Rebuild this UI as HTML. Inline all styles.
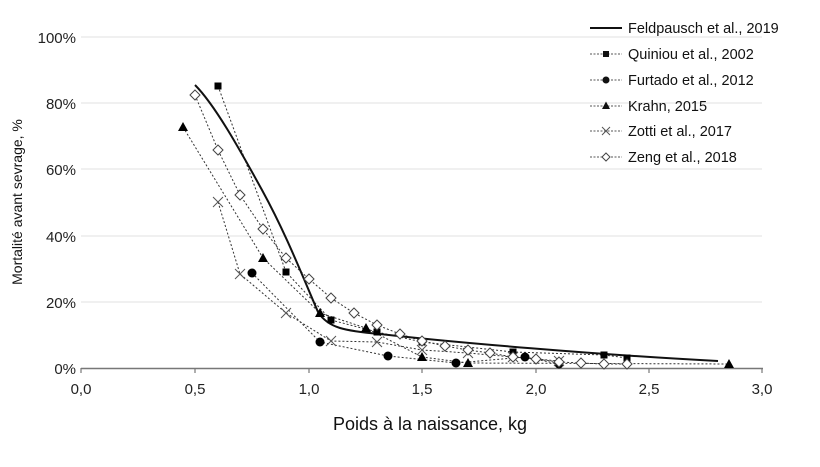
<!DOCTYPE html><html><head><style>body{margin:0;background:#fff}</style></head><body>
<svg width="820" height="462" xmlns="http://www.w3.org/2000/svg" font-family="Liberation Sans, sans-serif">
<defs>
<g id="sq"><rect x="-3.5" y="-3.5" width="7" height="7" fill="#000"/></g>
<g id="ci"><circle r="4.5" fill="#000"/></g>
<g id="tr"><polygon points="0,-5 5,4 -5,4" fill="#000"/></g>
<g id="xx"><path d="M-5,-5L5,5M-5,5L5,-5" stroke="#555" stroke-width="1"/></g>
<g id="di"><polygon points="0,-5 5,0 0,5 -5,0" fill="#fff" stroke="#444" stroke-width="1"/></g>
</defs>
<g stroke="#e6e6e6" stroke-width="1.2">
<line x1="81" x2="762" y1="37" y2="37"/><line x1="81" x2="762" y1="103" y2="103"/><line x1="81" x2="762" y1="169" y2="169"/><line x1="81" x2="762" y1="236" y2="236"/><line x1="81" x2="762" y1="302" y2="302"/></g>
<line x1="81" x2="763" y1="368.5" y2="368.5" stroke="#777" stroke-width="1.5"/>
<g stroke="#777" stroke-width="1.2"><line x1="81" x2="81" y1="368" y2="373"/><line x1="195" x2="195" y1="368" y2="373"/><line x1="309" x2="309" y1="368" y2="373"/><line x1="422" x2="422" y1="368" y2="373"/><line x1="536" x2="536" y1="368" y2="373"/><line x1="649" x2="649" y1="368" y2="373"/><line x1="762" x2="762" y1="368" y2="373"/></g>
<g font-size="15" fill="#222" text-anchor="middle"><text x="81" y="394">0,0</text><text x="195" y="394">0,5</text><text x="309" y="394">1,0</text><text x="422" y="394">1,5</text><text x="536" y="394">2,0</text><text x="649" y="394">2,5</text><text x="762" y="394">3,0</text></g>
<g font-size="15" fill="#222" text-anchor="end"><text x="76" y="43">100%</text><text x="76" y="109">80%</text><text x="76" y="175">60%</text><text x="76" y="242">40%</text><text x="76" y="308">20%</text><text x="76" y="374">0%</text></g>
<text x="430" y="430" font-size="18" text-anchor="middle" fill="#111">Poids à la naissance, kg</text>
<text transform="translate(22,202) rotate(-90)" font-size="14" text-anchor="middle" fill="#111">Mortalité avant sevrage, %</text>
<g fill="none" stroke="#333" stroke-width="1" stroke-dasharray="2,2">
<polyline points="218,86 286,272 331,320 377,332 422,342 513,352 604,355 627,358"/>
<polyline points="252,273 320,342 388,356 456,363 525,357 559,364"/>
<polyline points="183,127 263,258 320,313 366,328 422,357 468,363 729,364"/>
<polyline points="218,202 240,274 286,313 331,341 377,342 422,350 468,353 513,357 559,361"/>
<polyline points="195,95 218,150 240,195 263,229 286,258 309,279 331,298 354,313 377,325 400,334 422,341 445,346 468,350 490,353 513,357 536,359 559,362 581,363 604,364 627,364"/>
</g>
<path d="M195,85 C215,105 240,150 262,190 C285,232 300,270 318,312 C328,328 345,331 380,334 C450,342 600,355 718,361" fill="none" stroke="#111" stroke-width="2"/>
<g>
<use href="#sq" x="218" y="86"/><use href="#sq" x="286" y="272"/><use href="#sq" x="331" y="320"/><use href="#sq" x="377" y="332"/><use href="#sq" x="422" y="342"/><use href="#sq" x="513" y="352"/><use href="#sq" x="604" y="355"/><use href="#sq" x="627" y="358"/>
<use href="#ci" x="252" y="273"/><use href="#ci" x="320" y="342"/><use href="#ci" x="388" y="356"/><use href="#ci" x="456" y="363"/><use href="#ci" x="525" y="357"/><use href="#ci" x="559" y="364"/>
<use href="#tr" x="183" y="127"/><use href="#tr" x="263" y="258"/><use href="#tr" x="320" y="313"/><use href="#tr" x="366" y="328"/><use href="#tr" x="422" y="357"/><use href="#tr" x="468" y="363"/><use href="#tr" x="729" y="364"/>
<use href="#xx" x="218" y="202"/><use href="#xx" x="240" y="274"/><use href="#xx" x="286" y="313"/><use href="#xx" x="331" y="341"/><use href="#xx" x="377" y="342"/><use href="#xx" x="422" y="350"/><use href="#xx" x="468" y="353"/><use href="#xx" x="513" y="357"/><use href="#xx" x="559" y="361"/>
<use href="#di" x="195" y="95"/><use href="#di" x="218" y="150"/><use href="#di" x="240" y="195"/><use href="#di" x="263" y="229"/><use href="#di" x="286" y="258"/><use href="#di" x="309" y="279"/><use href="#di" x="331" y="298"/><use href="#di" x="354" y="313"/><use href="#di" x="377" y="325"/><use href="#di" x="400" y="334"/><use href="#di" x="422" y="341"/><use href="#di" x="445" y="346"/><use href="#di" x="468" y="350"/><use href="#di" x="490" y="353"/><use href="#di" x="513" y="357"/><use href="#di" x="536" y="359"/><use href="#di" x="559" y="362"/><use href="#di" x="581" y="363"/><use href="#di" x="604" y="364"/><use href="#di" x="627" y="364"/>
</g>
<g font-size="14.5" fill="#111">
<line x1="590" x2="622" y1="28" y2="28" stroke="#111" stroke-width="2"/><text x="628" y="33">Feldpausch et al., 2019</text>
<line x1="590" x2="622" y1="54" y2="54" stroke="#555" stroke-dasharray="2,1.5"/><rect x="603" y="51" width="6" height="6"/><text x="628" y="59">Quiniou et al., 2002</text>
<line x1="590" x2="622" y1="80" y2="80" stroke="#555" stroke-dasharray="2,1.5"/><circle cx="606" cy="80" r="3.5"/><text x="628" y="85">Furtado et al., 2012</text>
<line x1="590" x2="622" y1="106" y2="106" stroke="#555" stroke-dasharray="2,1.5"/><polygon points="606,101.5 610,109 602,109"/><text x="628" y="111">Krahn, 2015</text>
<line x1="590" x2="622" y1="131" y2="131" stroke="#555" stroke-dasharray="2,1.5"/><path d="M602,127L610,135M602,135L610,127" stroke="#555" fill="none"/><text x="628" y="136">Zotti et al., 2017</text>
<line x1="590" x2="622" y1="157" y2="157" stroke="#555" stroke-dasharray="2,1.5"/><polygon points="606,153 610,157 606,161 602,157" fill="#fff" stroke="#444"/><text x="628" y="162">Zeng et al., 2018</text>
</g>
</svg></body></html>
